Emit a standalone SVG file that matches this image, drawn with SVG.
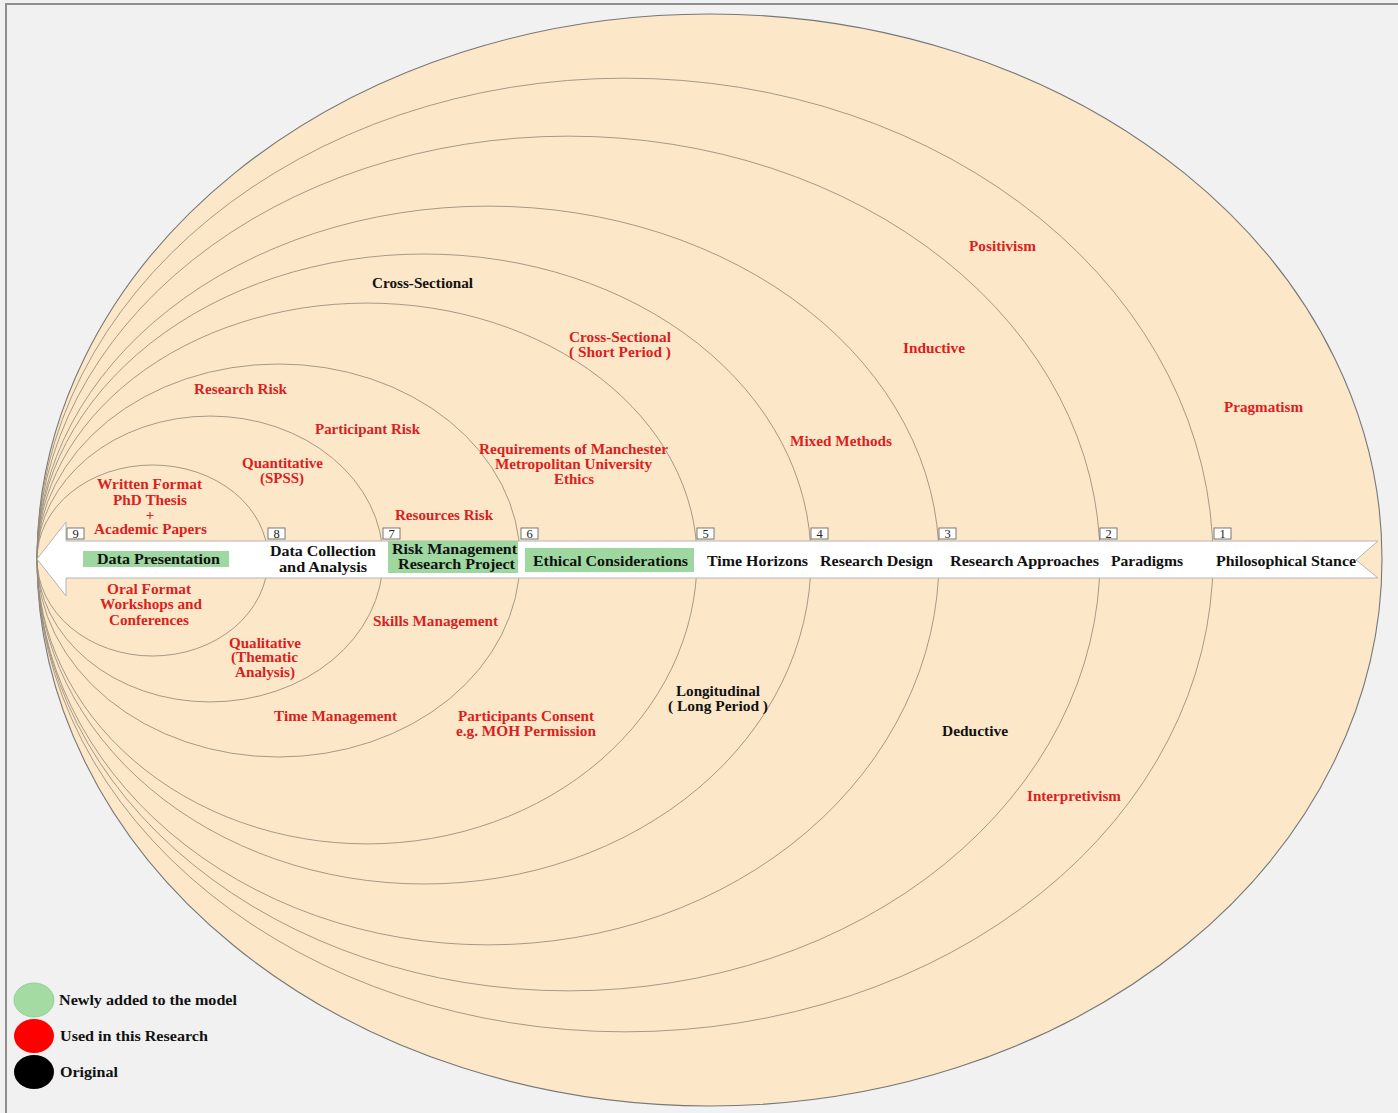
<svg xmlns="http://www.w3.org/2000/svg" width="1398" height="1113" viewBox="0 0 1398 1113">
  <style>
    .bg { fill: #f1f1f1; }
    .frame { stroke: #8f8f8f; stroke-width: 2; fill: none; }
    .outer { fill: #fce8c9; stroke: #777777; stroke-width: 1.1; }
    .ring { fill: none; stroke: #958a7a; stroke-width: 0.85; }
    .arrow { fill: #ffffff; stroke: #b4b4b4; stroke-width: 1; }
    .newbox { fill: #9fd7a0; }
    .numbox { fill: #ffffff; stroke: #6a6a6a; stroke-width: 0.9; }
    .num { font-family: "Liberation Serif", "Times New Roman", serif; font-size: 12.5px; font-weight: normal; fill: #222; text-anchor: middle; }
    text { font-family: "Liberation Serif", "Times New Roman", serif; font-weight: bold; }
    .used { fill: #da1f1f; font-size: 15px; }
    .orig { fill: #111111; font-size: 15px; }
    .layer { fill: #111111; font-size: 15.5px; }
    .key { fill: #111111; font-size: 14px; }
  </style>

  <!-- page -->
  <rect class="bg" x="0" y="0" width="1398" height="1113"/>
  <path class="frame" d="M6 1113 V4 H1398"/>

  <!-- onion layers: outer shell and inner rings, all meeting at the arrow tip -->
  <g id="layers">
    <path id="layer-outer" class="outer" d="M37 559 A672.5 545 0 0 1 1382 559 A672.5 547 0 0 1 37 559 Z"/>
    <path id="ring-1" class="ring" d="M37 559 A588 481 0 0 1 1213 559 A588 473 0 0 1 37 559 Z"/>
    <path id="ring-2" class="ring" d="M37 559 A531.5 423 0 0 1 1100 559 A531.5 432 0 0 1 37 559 Z"/>
    <path id="ring-3" class="ring" d="M37 559 A451 353 0 0 1 939 559 A451 386 0 0 1 37 559 Z"/>
    <path id="ring-4" class="ring" d="M37 559 A387 305 0 0 1 811 559 A387 325 0 0 1 37 559 Z"/>
    <path id="ring-5" class="ring" d="M37 559 A330 256 0 0 1 697 559 A330 285 0 0 1 37 559 Z"/>
    <path id="ring-6" class="ring" d="M37 559 A241.5 195 0 0 1 520 559 A241.5 198 0 0 1 37 559 Z"/>
    <path id="ring-7" class="ring" d="M37 559 A173 143 0 0 1 383 559 A173 143 0 0 1 37 559 Z"/>
    <path id="ring-8" class="ring" d="M37 559 A115.5 94 0 0 1 268 559 A115.5 97 0 0 1 37 559 Z"/>
  </g>

  <!-- the process arrow running from stance (right) to presentation (left) -->
  <g id="connectors">
    <polygon class="arrow" points="37,559 66,522 66,541 1378,541 1356,560 1378,578 66,578 66,596"/>
  </g>

  <!-- layer numbers -->
  <g id="numbers">
    <rect class="numbox" x="67" y="528" width="17" height="11"/><text class="num" x="75.5" y="537.8">9</text>
    <rect class="numbox" x="268" y="528" width="17" height="11"/><text class="num" x="276.5" y="537.8">8</text>
    <rect class="numbox" x="383" y="528" width="17" height="11"/><text class="num" x="391.5" y="537.8">7</text>
    <rect class="numbox" x="521" y="528" width="17" height="11"/><text class="num" x="529.5" y="537.8">6</text>
    <rect class="numbox" x="697" y="528" width="17" height="11"/><text class="num" x="705.5" y="537.8">5</text>
    <rect class="numbox" x="811" y="528" width="17" height="11"/><text class="num" x="819.5" y="537.8">4</text>
    <rect class="numbox" x="939" y="528" width="17" height="11"/><text class="num" x="947.5" y="537.8">3</text>
    <rect class="numbox" x="1100" y="528" width="17" height="11"/><text class="num" x="1108.5" y="537.8">2</text>
    <rect class="numbox" x="1214" y="528" width="17" height="11"/><text class="num" x="1222.5" y="537.8">1</text>
  </g>

  <!-- layer titles along the arrow -->
  <g id="node-philosophical-stance"><text class="layer" x="1216" y="566" textLength="140" lengthAdjust="spacingAndGlyphs">Philosophical Stance</text></g>
  <g id="node-paradigms"><text class="layer" x="1111" y="566" textLength="72" lengthAdjust="spacingAndGlyphs">Paradigms</text></g>
  <g id="node-research-approaches"><text class="layer" x="950" y="566" textLength="149" lengthAdjust="spacingAndGlyphs">Research Approaches</text></g>
  <g id="node-research-design"><text class="layer" x="820" y="566" textLength="113" lengthAdjust="spacingAndGlyphs">Research Design</text></g>
  <g id="node-time-horizons"><text class="layer" x="707" y="566" textLength="101" lengthAdjust="spacingAndGlyphs">Time Horizons</text></g>
  <g id="node-ethical-considerations">
    <rect class="newbox" x="525" y="548" width="169" height="24"/>
    <text class="layer" x="533" y="565.5" textLength="155" lengthAdjust="spacingAndGlyphs">Ethical Considerations</text>
  </g>
  <g id="node-risk-management">
    <rect class="newbox" x="388" y="541" width="130" height="32"/>
    <text class="layer" x="392" y="554" textLength="125" lengthAdjust="spacingAndGlyphs">Risk Management</text>
    <text class="layer" x="398" y="569" textLength="117" lengthAdjust="spacingAndGlyphs">Research Project</text>
  </g>
  <g id="node-data-collection">
    <text class="layer" x="270" y="556" textLength="106" lengthAdjust="spacingAndGlyphs">Data Collection</text>
    <text class="layer" x="279" y="572" textLength="88" lengthAdjust="spacingAndGlyphs">and Analysis</text>
  </g>
  <g id="node-data-presentation">
    <rect class="newbox" x="83" y="551" width="146" height="16"/>
    <text class="layer" x="97" y="563.5" textLength="123" lengthAdjust="spacingAndGlyphs">Data Presentation</text>
  </g>

  <!-- options inside each layer -->
  <g id="opt-stance">
    <text class="used" x="969" y="251" textLength="67" lengthAdjust="spacingAndGlyphs">Positivism</text>
    <text class="used" x="1224" y="412" textLength="79" lengthAdjust="spacingAndGlyphs">Pragmatism</text>
    <text class="used" x="1027" y="801" textLength="94" lengthAdjust="spacingAndGlyphs">Interpretivism</text>
  </g>
  <g id="opt-approaches">
    <text class="used" x="903" y="353" textLength="62" lengthAdjust="spacingAndGlyphs">Inductive</text>
    <text class="orig" x="942" y="736" textLength="66" lengthAdjust="spacingAndGlyphs">Deductive</text>
  </g>
  <g id="opt-design">
    <text class="used" x="790" y="446" textLength="102" lengthAdjust="spacingAndGlyphs">Mixed Methods</text>
  </g>
  <g id="opt-time">
    <text class="orig" x="372" y="288" textLength="101" lengthAdjust="spacingAndGlyphs">Cross-Sectional</text>
    <text class="used" x="569" y="342" textLength="102" lengthAdjust="spacingAndGlyphs">Cross-Sectional</text>
    <text class="used" x="569" y="357" textLength="102" lengthAdjust="spacingAndGlyphs">( Short Period )</text>
    <text class="orig" x="676" y="696" textLength="84" lengthAdjust="spacingAndGlyphs">Longitudinal</text>
    <text class="orig" x="668" y="711" textLength="100" lengthAdjust="spacingAndGlyphs">( Long Period )</text>
  </g>
  <g id="opt-ethics">
    <text class="used" x="479" y="454" textLength="189" lengthAdjust="spacingAndGlyphs">Requirements of Manchester</text>
    <text class="used" x="495" y="469" textLength="157" lengthAdjust="spacingAndGlyphs">Metropolitan University</text>
    <text class="used" x="554" y="484" textLength="40" lengthAdjust="spacingAndGlyphs">Ethics</text>
    <text class="used" x="458" y="721" textLength="136" lengthAdjust="spacingAndGlyphs">Participants Consent</text>
    <text class="used" x="456" y="736" textLength="140" lengthAdjust="spacingAndGlyphs">e.g. MOH Permission</text>
  </g>
  <g id="opt-risk">
    <text class="used" x="194" y="394" textLength="93" lengthAdjust="spacingAndGlyphs">Research Risk</text>
    <text class="used" x="315" y="434" textLength="105" lengthAdjust="spacingAndGlyphs">Participant Risk</text>
    <text class="used" x="395" y="520" textLength="98" lengthAdjust="spacingAndGlyphs">Resources Risk</text>
    <text class="used" x="373" y="626" textLength="125" lengthAdjust="spacingAndGlyphs">Skills Management</text>
    <text class="used" x="274" y="721" textLength="123" lengthAdjust="spacingAndGlyphs">Time Management</text>
  </g>
  <g id="opt-analysis">
    <text class="used" x="242" y="468" textLength="81" lengthAdjust="spacingAndGlyphs">Quantitative</text>
    <text class="used" x="260" y="483" textLength="44" lengthAdjust="spacingAndGlyphs">(SPSS)</text>
    <text class="used" x="229" y="648" textLength="72" lengthAdjust="spacingAndGlyphs">Qualitative</text>
    <text class="used" x="231" y="662" textLength="67" lengthAdjust="spacingAndGlyphs">(Thematic</text>
    <text class="used" x="235" y="677" textLength="60" lengthAdjust="spacingAndGlyphs">Analysis)</text>
  </g>
  <g id="opt-presentation">
    <text class="used" x="97" y="489" textLength="105" lengthAdjust="spacingAndGlyphs">Written Format</text>
    <text class="used" x="113" y="505" textLength="74" lengthAdjust="spacingAndGlyphs">PhD Thesis</text>
    <text class="used" x="150" y="520" text-anchor="middle">+</text>
    <text class="used" x="94" y="534" textLength="113" lengthAdjust="spacingAndGlyphs">Academic Papers</text>
    <text class="used" x="107" y="594" textLength="84" lengthAdjust="spacingAndGlyphs">Oral Format</text>
    <text class="used" x="100" y="609" textLength="102" lengthAdjust="spacingAndGlyphs">Workshops and</text>
    <text class="used" x="109" y="625" textLength="80" lengthAdjust="spacingAndGlyphs">Conferences</text>
  </g>

  <!-- key -->
  <g id="legend">
    <ellipse cx="34" cy="1000" rx="20" ry="17" fill="#a3dba3" stroke="#8fc98f" stroke-width="0.8"/>
    <ellipse cx="34" cy="1036" rx="20" ry="17" fill="#ff0000"/>
    <ellipse cx="34" cy="1072" rx="20" ry="17" fill="#000000"/>
    <text class="key" x="59" y="1005" textLength="178" lengthAdjust="spacingAndGlyphs">Newly added to the model</text>
    <text class="key" x="60" y="1041" textLength="148" lengthAdjust="spacingAndGlyphs">Used in this Research</text>
    <text class="key" x="60" y="1077" textLength="58" lengthAdjust="spacingAndGlyphs">Original</text>
  </g>
</svg>
